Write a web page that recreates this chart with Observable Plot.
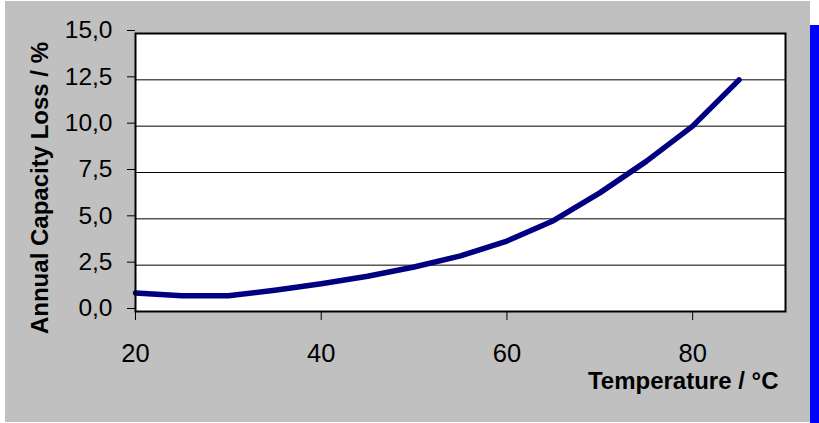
<!DOCTYPE html>
<html>
<head>
<meta charset="utf-8">
<script src="https://cdn.jsdelivr.net/npm/d3@7"></script>
<script src="https://cdn.jsdelivr.net/npm/@observablehq/plot@0.6"></script>
<style>
  html, body { margin: 0; padding: 0; background: white; }
  #wrap { position: relative; width: 819px; height: 423px; overflow: hidden; }
  #gray { position: absolute; left: 5px; top: 1px; width: 805px; height: 421px; background: #c0c0c0; }
  #blue { position: absolute; left: 810px; top: 25px; width: 9px; height: 398px; background: #0000ff; }
  #chart { position: absolute; left: 0; top: 0; }
</style>
</head>
<body>
<div id="wrap"><div id="gray"></div><div id="blue"></div><div id="chart"></div></div>
<script>
const temperature = [20, 25, 30, 35, 40, 45, 50, 55, 60, 65, 70, 75, 80, 85];
const capacityLoss = [1.0, 0.85, 0.85, 1.15, 1.5, 1.9, 2.4, 3.0, 3.8, 4.9, 6.4, 8.1, 10.0, 12.5];
const xTicks = [20, 40, 60, 80];
const yTicks = [0, 2.5, 5, 7.5, 10, 12.5, 15];
const yTickLabels = ["0,0", "2,5", "5,0", "7,5", "10,0", "12,5", "15,0"];
const xTitle = "Temperature / °C";
const yTitle = "Annual Capacity Loss / %";

const data = temperature.map((t, i) => ({t, v: capacityLoss[i]}));

const chart = Plot.plot({
  width: 819,
  height: 423,
  marginLeft: 135,
  marginRight: 34,
  marginTop: 33,
  marginBottom: 112,
  style: {background: "transparent", fontFamily: "'Liberation Sans', Arial, sans-serif", color: "black"},
  x: {domain: [20, 90]},
  y: {domain: [0, 15]},
  marks: [
    Plot.frame({fill: "white"}),
    Plot.ruleY(yTicks.slice(1, -1), {stroke: "black", strokeWidth: 1}),
    Plot.line(data, {x: "t", y: "v", stroke: "#000080", strokeWidth: 5.5, strokeLinecap: "round", strokeLinejoin: "round"}),
    Plot.frame({stroke: "black", strokeWidth: 2}),
    Plot.axisY({ticks: yTicks, tickFormat: (d) => yTickLabels[yTicks.indexOf(d)], tickSize: 8, tickPadding: 15, fontSize: 24.5, dy: -3, label: null}),
    Plot.axisX({ticks: xTicks, tickSize: 9, tickPadding: 23, fontSize: 25.5, label: null}),
    Plot.text([yTitle], {text: d => d, frameAnchor: "left", rotate: -90, dx: -87.5, dy: 15.5, fontSize: 24, fontWeight: "bold", textAnchor: "middle", lineAnchor: "bottom"}),
    Plot.text([xTitle], {text: d => d, frameAnchor: "bottom-right", dx: -7, dy: 77, fontSize: 24, fontWeight: "bold", textAnchor: "end", lineAnchor: "bottom"})
  ]
});
document.getElementById("chart").appendChild(chart);
</script>
</body>
</html>
